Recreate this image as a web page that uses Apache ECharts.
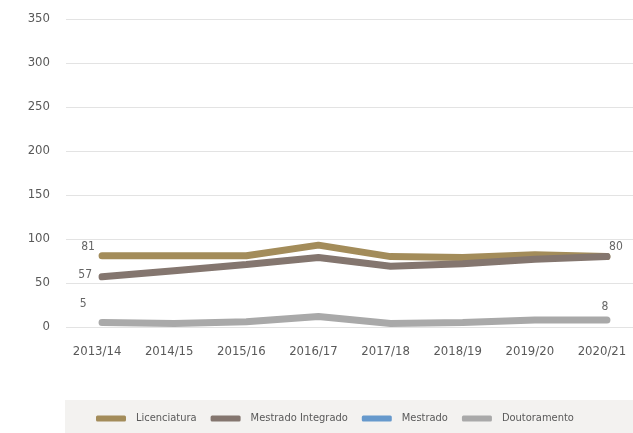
<!DOCTYPE html>
<html><head><meta charset="utf-8">
<script src="https://cdn.jsdelivr.net/npm/echarts@6/dist/echarts.min.js"></script>
<style>html,body{margin:0;padding:0;background:#fff}#c{width:633px;height:433px}</style>
</head><body><div id="c"></div>
<script>
const categories = ['2013/14','2014/15','2015/16','2016/17','2017/18','2018/19','2019/20','2020/21'];
const licenciatura = [81, 81, 81, 93, 80, 79, 82, 80];
const mestradoIntegrado = [57, 64, 71, 79, 69, 72, 77, 80];
const mestrado = [];
const doutoramento = [5, 4, 6, 12, 4, 5, 8, 8];
const yTicks = [0, 50, 100, 150, 200, 250, 300, 350];

const font = '"DejaVu Sans Condensed", "Liberation Sans Narrow", "Liberation Sans", sans-serif';
const lbl = (pos, off) => ({show: true, position: pos, offset: off, distance: 5, color: '#666666', fontSize: 12, fontFamily: font});

function edgeLabels(data, first, last) {
  return data.map((v, i) => {
    if (i === 0 && first) return {value: v, label: lbl(first[0], first[1])};
    if (i === data.length - 1 && last) return {value: v, label: lbl(last[0], last[1])};
    return v;
  });
}

const chart = echarts.init(document.getElementById('c'));
chart.setOption({
  animation: false,
  textStyle: {fontFamily: font},
  graphic: [{type: 'rect', left: 65, top: 400, shape: {width: 568, height: 33}, style: {fill: '#f3f2f0'}, z: -1}],
  legend: {
    left: 91, top: 408,
    itemWidth: 30, itemHeight: 6, itemGap: 14,
    icon: 'roundRect',
    textStyle: {color: '#595959', fontSize: 11, fontFamily: font, padding: [0, 0, 0, 5]},
    data: ['Licenciatura', 'Mestrado Integrado', 'Mestrado', 'Doutoramento']
  },
  grid: {left: 66, width: 577, top: 19, bottom: 106, outerBoundsMode: 'none', containLabel: false},
  xAxis: {
    type: 'category', data: categories, boundaryGap: true,
    axisLine: {show: false}, axisTick: {show: false},
    axisLabel: {color: '#595959', fontSize: 13, fontFamily: font, margin: 18, padding: [0, 10, 0, 0]}
  },
  yAxis: {
    type: 'value', min: 0, max: 350, interval: 50,
    axisLine: {show: false}, axisTick: {show: false},
    axisLabel: {color: '#595959', fontSize: 13, fontFamily: font, margin: 16},
    splitLine: {lineStyle: {color: '#e3e3e3', width: 1}}
  },
  series: [
    {name: 'Licenciatura', type: 'line', data: edgeLabels(licenciatura, ['top', [-14, 2]], null),
     symbol: 'circle', symbolSize: 0, showSymbol: true, label: {show: false},
     lineStyle: {width: 7, color: '#a38c5a', cap: 'round'}, itemStyle: {color: '#a38c5a'}},
    {name: 'Mestrado Integrado', type: 'line', data: edgeLabels(mestradoIntegrado, ['left', [-5, -2]], ['top', [9, 1]]),
     symbol: 'circle', symbolSize: 0, showSymbol: true, label: {show: false},
     lineStyle: {width: 7, color: '#84766f', cap: 'round'}, itemStyle: {color: '#84766f'}},
    {name: 'Mestrado', type: 'line', data: mestrado,
     symbol: 'circle', symbolSize: 0, lineStyle: {width: 7, color: '#6699cc', cap: 'round'}, itemStyle: {color: '#6699cc'}},
    {name: 'Doutoramento', type: 'line', data: edgeLabels(doutoramento, ['top', [-19, -8]], ['top', [-2, -2]]),
     symbol: 'circle', symbolSize: 0, showSymbol: true, label: {show: false},
     lineStyle: {width: 7, color: '#a9a9a9', cap: 'round'}, itemStyle: {color: '#a9a9a9'}}
  ]
});
</script></body></html>
